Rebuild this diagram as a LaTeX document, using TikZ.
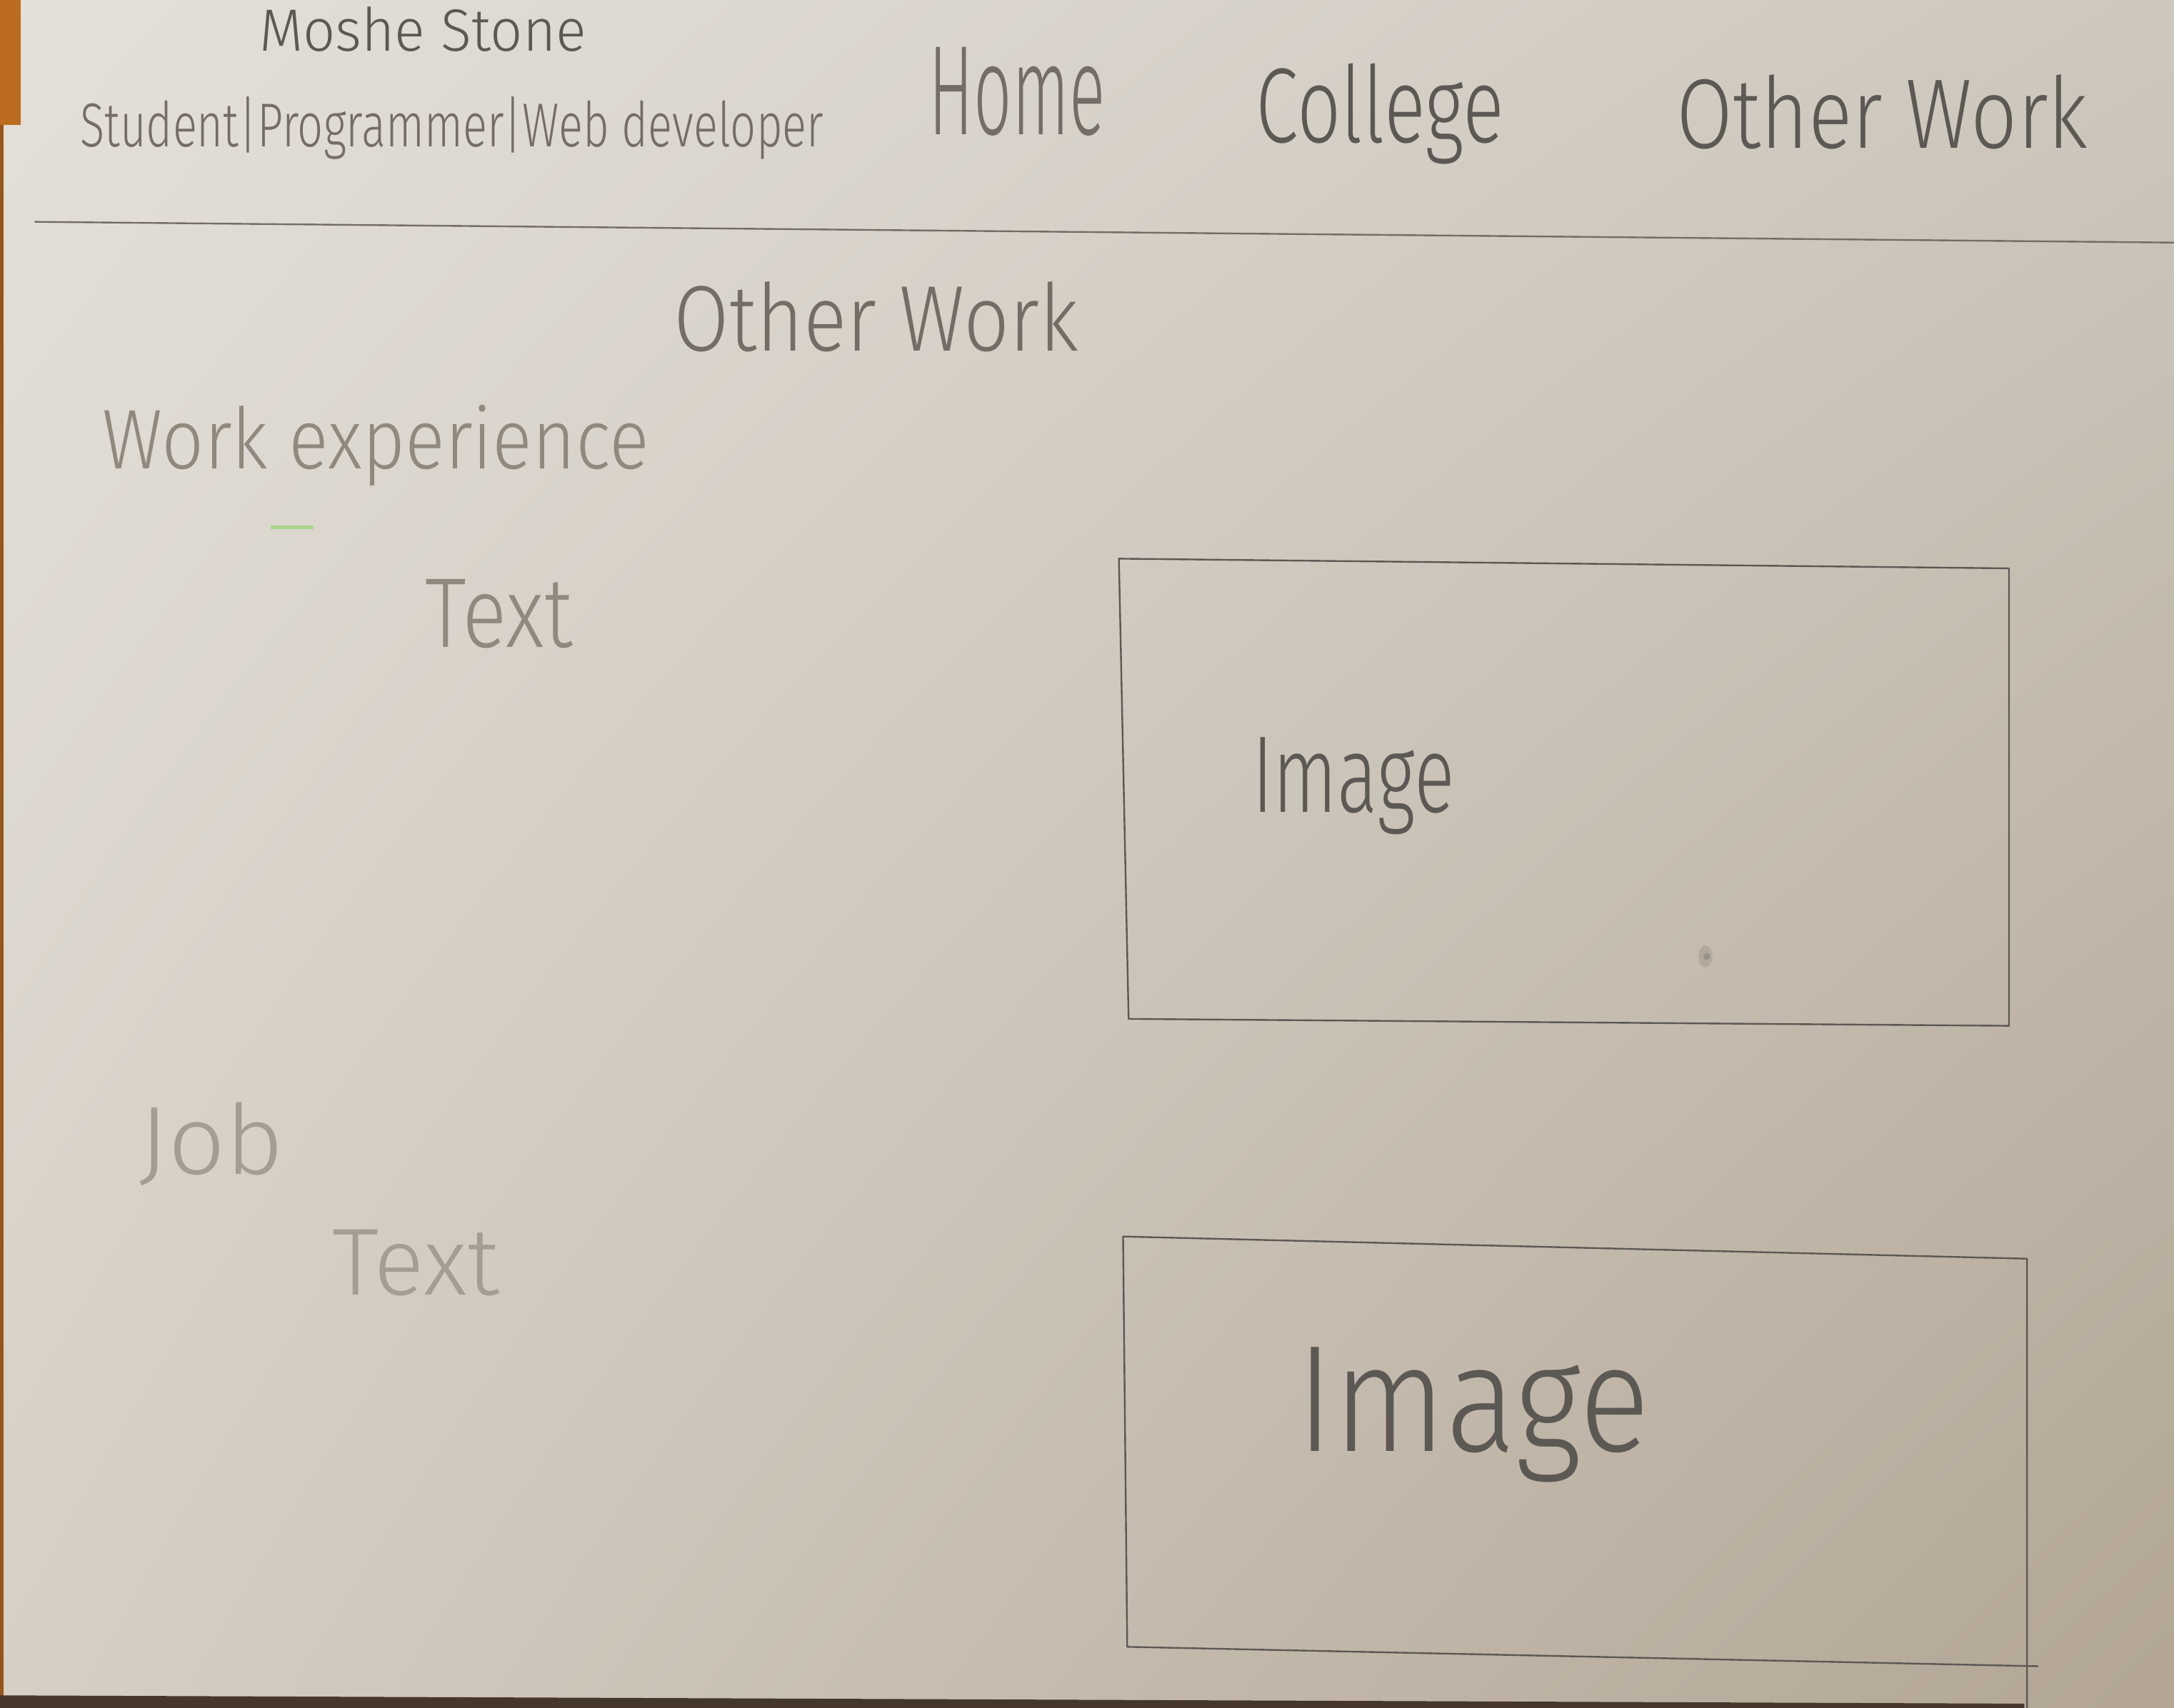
\documentclass[tikz,border=0pt]{standalone}
\usepackage{fontspec}
\usetikzlibrary{shadings}
\newfontfamily\hand{Fira Sans Light}
\newlength\pu
\setlength\pu{0.02cm}
% handwritten-looking label: width, height (above baseline), text
\newcommand{\hw}[3]{\resizebox{#1\pu}{#2\pu}{\hand #3}}
\definecolor{paperUL}{RGB}{228,224,218}
\definecolor{paperUR}{RGB}{206,199,189}
\definecolor{paperLL}{RGB}{214,207,197}
\definecolor{paperLR}{RGB}{178,165,148}
\definecolor{inkDark}{RGB}{92,88,84}
\definecolor{inkMid}{RGB}{115,109,102}
\definecolor{inkLight}{RGB}{145,136,126}
\definecolor{inkFaint}{RGB}{165,156,146}
\definecolor{tape}{RGB}{188,108,32}
\definecolor{tableedge}{RGB}{70,55,45}
\definecolor{greenmark}{RGB}{170,215,140}
\tikzset{
  pencil/.style={inner sep=0pt, outer sep=0pt, anchor=base west, text=#1},
  pencilline/.style={draw=inkDark, line width=0.7pt, line join=round},
}
\begin{document}
\begin{tikzpicture}[x=0.02cm, y=-0.02cm]
  % paper
  \shade[upper left=paperUL, upper right=paperUR, lower left=paperLL, lower right=paperLR]
    (0,0) rectangle (1568,1232);
  \useasboundingbox (0,0) rectangle (1568,1232);
  % edges of the sheet
  \fill[tape] (0,0) rectangle (15,90);
  \fill[tape!80!black] (0,90) rectangle (2.5,1232);
  \fill[tableedge] (0,1223) -- (1460,1229) -- (1460,1232) -- (0,1232) -- cycle;

  % header
  \node[pencil=inkDark] (name) at (187,37) {\hw{236}{32}{Moshe Stone}};
  \node[pencil=inkMid] (role) at (58,106) {\hw{536}{36}{Student|Programmer|Web developer}};
  \node[pencil=inkMid] (home) at (670,97) {\hw{127}{63}{Home}};
  \node[pencil=inkDark] (college) at (906,103) {\hw{179}{57}{College}};
  \node[pencil=inkDark] (other) at (1209,107) {\hw{297}{53}{Other Work}};
  \coordinate (hl) at (25,160);
  \coordinate (hr) at (1568,175);
  \draw[pencilline, draw=inkMid] (hl) -- (hr);

  % page body
  \node[pencil=inkMid] (title) at (486,253) {\hw{292}{50}{Other Work}};
  \node[pencil=inkLight] (exp) at (74,338) {\hw{394}{46}{Work experience}};
  \fill[greenmark] (195,379) rectangle (226,381.5);
  \node[pencil=inkLight] (text1) at (307,467) {\hw{106}{49}{Text}};

  \coordinate (a1) at (807,403);
  \coordinate (a2) at (1449,410);
  \coordinate (a3) at (1449,740);
  \coordinate (a4) at (814,735);
  \draw[pencilline] (a1) -- (a2) -- (a3) -- (a4) -- cycle;
  \node[pencil=inkDark] (img1) at (903,586) {\hw{146}{54}{Image}};
  % smudge on the sheet
  \fill[inkLight, opacity=0.35] (1230,690) ellipse (5 and 8);
  \fill[inkMid, opacity=0.4] (1231,690) circle (2.5);

  \node[pencil=inkFaint] (job) at (100,847) {\hw{105}{52}{Job}};
  \node[pencil=inkFaint] (text2) at (240,934) {\hw{120}{47}{Text}};

  \coordinate (b1) at (810,892);
  \coordinate (b2) at (1462,908);
  \coordinate (b3) at (1462,1232);
  \coordinate (b4) at (813,1188);
  \coordinate (b5) at (1470,1202);
  \draw[pencilline] (b3) -- (b2) -- (b1) -- (b4) -- (b5);
  \node[pencil=inkDark] (img2) at (935,1047) {\hw{255}{75}{Image}};
\end{tikzpicture}
\end{document}
